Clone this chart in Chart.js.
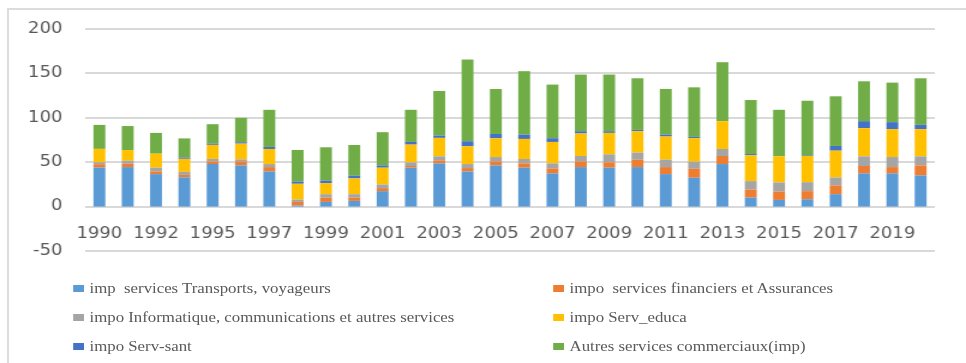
<!DOCTYPE html>
<html lang="fr">
<head>
<meta charset="UTF-8">
<script src="https://cdn.jsdelivr.net/npm/chart.js"></script>
<title>Importations de services</title>
<style>
    html, body { margin: 0; padding: 0; background: #fff; overflow: hidden; }
    #frame {
        position: absolute; left: 7px; top: 8px; width: 1000px; height: 400px;
        border-top: 2px solid #dcdcdc; border-left: 2px solid #dcdcdc;
    }
    /* the whole figure is drawn narrow, then stretched horizontally */
    #wrap {
        position: absolute; left: 0; top: 0; width: 805px; height: 363px;
        transform: scaleX(1.2); transform-origin: 0 0;
    }
    #grid { position: absolute; left: 0; top: 0; width: 805px; height: 279px; }
    .gridline { position: absolute; height: 2px; background: #d9d9d9; }
    #chart { position: absolute; left: 0; top: 0; }
    #legend {
        position: absolute; left: 0; top: 274px; width: 805px;
        font-family: "Liberation Serif", serif; font-size: 14px; color: #595959;
    }
    .item {
        position: absolute; height: 29px; display: flex; align-items: center;
        white-space: pre;
    }
    .box { width: 9px; height: 7px; margin-right: 5px; flex: none; }
</style>
</head>
<body>
<div id="frame"></div>
<div id="wrap">
    <div id="grid"></div>
    <canvas id="chart" width="805" height="279"></canvas>
    <div id="legend"></div>
</div>

<script>
    const years = ['1990', '1991', '1992', '1994', '1995', '1996', '1997', '1998', '1999', '2000',
        '2001', '2002', '2003', '2004', '2005', '2006', '2007', '2008', '2009', '2010',
        '2011', '2012', '2013', '2014', '2015', '2016', '2017', '2018', '2019', '2020'];

    const transports = [44, 44.5, 36.6, 33, 48, 46.4, 39.6, 1.1, 5.3, 6.4,
        17.4, 43.8, 48.7, 39.6, 46.4, 43.8, 37.4, 44.5, 43.8, 44.5,
        36.6, 32.5, 47.9, 10.2, 7.5, 8.3, 14, 37.4, 37.4, 35.1];
    const financiers = [3.7, 3.8, 3, 2.7, 2.7, 4.5, 4.9, 4.2, 4.9, 3.8,
        3.4, 1.9, 3.4, 3.8, 4.5, 4.9, 5.6, 6.4, 6, 8.3,
        7.9, 10.1, 9.1, 9, 9.5, 9.1, 9.8, 8.3, 7.1, 11.3];
    const informatique = [2.3, 3.4, 4.2, 3.4, 3, 2.3, 3.4, 2.6, 3.8, 3.8,
        4.1, 4.1, 4.5, 4.5, 4.9, 4.9, 5.7, 6.1, 9.1, 8,
        8.3, 8, 7.9, 9.5, 10.2, 10.1, 9, 10.9, 11.3, 10.2];
    const educa = [15, 12, 15.8, 14.7, 15.8, 17.7, 17, 17.8, 12.4, 17.7,
        18.9, 20, 20.8, 20, 21.1, 22.6, 24.1, 25.3, 24.1, 24.1,
        26.1, 26.4, 31.3, 29, 29.4, 29.5, 30.2, 31.7, 31.4, 30.6];
    const sante = [0, 0, 0, 1.5, 1.5, 1.6, 2.3, 2.6, 3, 3,
        2.6, 3, 2.6, 5.7, 4.9, 4.9, 4.2, 2.6, 1.9, 1.5,
        2.2, 1.5, 0, 1.5, 0, 0.7, 5.3, 7.9, 7.9, 4.9];
    const autres = [27, 27, 23.4, 21.5, 21.8, 27.5, 41.8, 35.5, 37.4, 34.7,
        37.4, 36.2, 50.2, 92, 50.6, 71.4, 60.4, 63.8, 63.8, 58.1,
        51.4, 55.8, 66.4, 60.8, 52.4, 61.5, 55.9, 44.9, 44.5, 52.4];

    const yMin = -50, yMax = 200, yStep = 50;

    const series = [
        { label: 'imp  services Transports, voyageurs', data: transports, color: '#5b9bd5' },
        { label: 'impo  services financiers et Assurances', data: financiers, color: '#ed7d31' },
        { label: 'impo Informatique, communications et autres services', data: informatique, color: '#a5a5a5' },
        { label: 'impo Serv_educa', data: educa, color: '#ffc000' },
        { label: 'impo Serv-sant', data: sante, color: '#4472c4' },
        { label: 'Autres services commerciaux(imp)', data: autres, color: '#70ad47' }
    ];

    Chart.defaults.font.family = 'DejaVu Sans';
    Chart.defaults.font.size = 15;
    Chart.defaults.color = '#595959';

    const chart = new Chart(document.getElementById('chart'), {
        type: 'bar',
        data: {
            labels: years,
            datasets: series.map(s => ({
                label: s.label,
                data: s.data,
                backgroundColor: s.color,
                categoryPercentage: 1,
                barPercentage: 0.42
            }))
        },
        options: {
            responsive: false,
            devicePixelRatio: 1,
            animation: false,
            layout: { padding: { left: 0, right: 26, top: 29, bottom: 19 } },
            plugins: { legend: { display: false }, tooltip: { enabled: false } },
            scales: {
                x: {
                    stacked: true,
                    position: { y: 0 },
                    afterFit: scale => { scale.height = 0; },
                    grid: { display: false, drawTicks: false },
                    border: { display: false },
                    ticks: {
                        autoSkip: false,
                        maxRotation: 0,
                        padding: 19,
                        callback: (v, i) => i % 2 === 0 ? years[i] : ''
                    }
                },
                y: {
                    stacked: true,
                    min: yMin,
                    max: yMax,
                    afterFit: scale => { scale.width = 71; },
                    grid: { display: false, drawTicks: false },
                    border: { display: false },
                    ticks: { stepSize: yStep, padding: 19 }
                }
            }
        }
    });

    // grid lines sit in a layer under the (transparent) canvas, one per y tick
    const gridLayer = document.getElementById('grid');
    const yScale = chart.scales.y;
    const area = chart.chartArea;
    yScale.ticks.forEach(t => {
        const line = document.createElement('div');
        line.className = 'gridline';
        line.style.left = area.left + 'px';
        line.style.width = (area.right - area.left) + 'px';
        line.style.top = (Math.round(yScale.getPixelForValue(t.value)) - 1) + 'px';
        gridLayer.appendChild(line);
    });

    // legend in two columns, built from the datasets
    const legend = document.getElementById('legend');
    chart.data.datasets.forEach((ds, i) => {
        const item = document.createElement('div');
        item.className = 'item';
        item.style.left = (i % 2 === 0 ? 60.6 : 460.6) + 'px';
        item.style.top = (Math.floor(i / 2) * 29) + 'px';
        const box = document.createElement('span');
        box.className = 'box';
        box.style.background = ds.backgroundColor;
        item.appendChild(box);
        item.appendChild(document.createTextNode(ds.label));
        legend.appendChild(item);
    });
</script>
</body>
</html>
